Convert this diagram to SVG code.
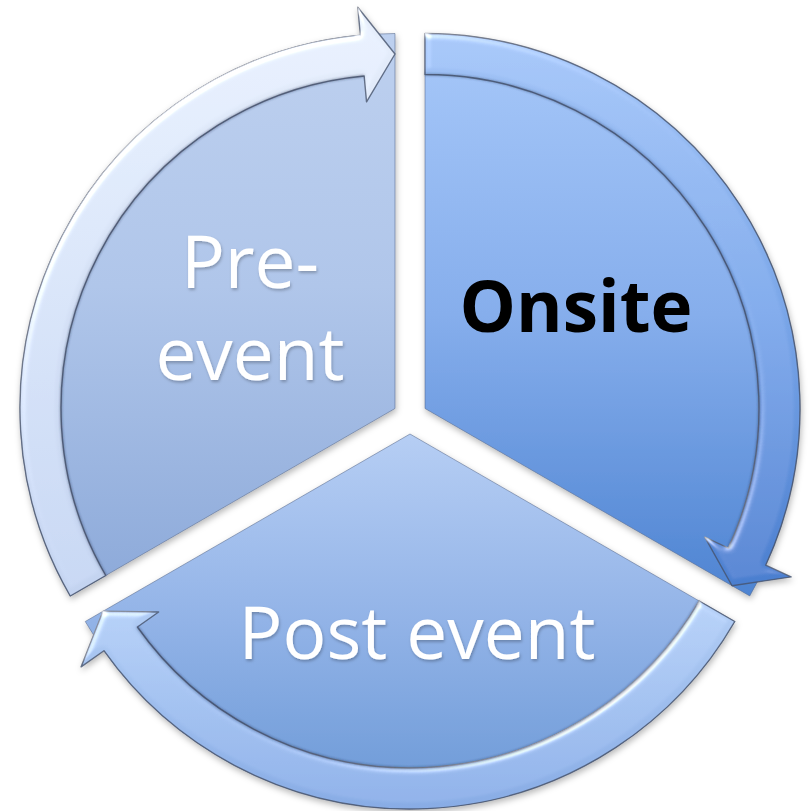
<svg xmlns="http://www.w3.org/2000/svg" width="809" height="811" viewBox="0 0 809 811">
  <defs>
    <style>
      .seg { stroke: #55688a; stroke-opacity: 0.55; stroke-width: 1; }
      .arr { stroke: #46536c; stroke-opacity: 0.8; stroke-width: 1.4; stroke-linejoin: round; }
      .edge { fill: none; stroke: #2c3a58; stroke-opacity: 0.45; stroke-width: 2.2; }
      .lbl { font-family: "Open Sans", "Liberation Sans", sans-serif; font-size: 73px; text-anchor: middle; }
      .white { fill: #ffffff; filter: url(#txtShadow); }
      .black { fill: #000000; font-weight: bold; font-size: 71px; }
    </style>
    <linearGradient id="gLeft" gradientUnits="userSpaceOnUse" x1="0" y1="33" x2="0" y2="596">
      <stop offset="0" stop-color="#BDD0EF"/>
      <stop offset="0.45" stop-color="#B0C6EA"/>
      <stop offset="1" stop-color="#8CA9D9"/>
    </linearGradient>
    <linearGradient id="gRight" gradientUnits="userSpaceOnUse" x1="0" y1="33" x2="0" y2="596">
      <stop offset="0" stop-color="#A7C8F9"/>
      <stop offset="0.5" stop-color="#86AEEC"/>
      <stop offset="1" stop-color="#4E84D2"/>
    </linearGradient>
    <linearGradient id="gBottom" gradientUnits="userSpaceOnUse" x1="0" y1="434" x2="0" y2="809">
      <stop offset="0" stop-color="#B6CEF4"/>
      <stop offset="0.5" stop-color="#92B3E7"/>
      <stop offset="1" stop-color="#6A98D6"/>
    </linearGradient>
    <linearGradient id="gaLeft" gradientUnits="userSpaceOnUse" x1="0" y1="7" x2="0" y2="596">
      <stop offset="0" stop-color="#E6EEFB"/>
      <stop offset="1" stop-color="#C3D3F0"/>
    </linearGradient>
    <linearGradient id="gaRight" gradientUnits="userSpaceOnUse" x1="0" y1="33" x2="0" y2="590">
      <stop offset="0" stop-color="#A3C4F6"/>
      <stop offset="0.5" stop-color="#7AA6E8"/>
      <stop offset="1" stop-color="#4A7ECF"/>
    </linearGradient>
    <linearGradient id="gaBottom" gradientUnits="userSpaceOnUse" x1="0" y1="600" x2="0" y2="809">
      <stop offset="0" stop-color="#B3CEF5"/>
      <stop offset="1" stop-color="#88ACE5"/>
    </linearGradient>
    <filter id="shadow" x="-10%" y="-10%" width="120%" height="120%">
      <feDropShadow dx="1" dy="3" stdDeviation="3" flood-color="#000" flood-opacity="0.28"/>
    </filter>
    <filter id="bevel" x="-5%" y="-5%" width="110%" height="110%">
      <feGaussianBlur in="SourceAlpha" stdDeviation="3" result="b"/>
      <feSpecularLighting in="b" surfaceScale="3" specularConstant="0.7" specularExponent="22" lighting-color="#ffffff" result="s">
        <feDistantLight azimuth="235" elevation="32"/>
      </feSpecularLighting>
      <feComposite in="s" in2="SourceAlpha" operator="in" result="s2"/>
      <feComposite in="SourceGraphic" in2="s2" operator="arithmetic" k1="0" k2="1" k3="1" k4="0"/>
    </filter>
    <filter id="soft" x="-5%" y="-5%" width="110%" height="110%">
      <feGaussianBlur stdDeviation="0.8"/>
    </filter>
    <filter id="txtShadow" x="-10%" y="-10%" width="120%" height="130%">
      <feDropShadow dx="1" dy="2" stdDeviation="1.5" flood-color="#000" flood-opacity="0.25"/>
    </filter>
  </defs>

  <g id="node-pre-event" filter="url(#shadow)">
    <path class="seg" fill="url(#gLeft)" d="M395,408.5 L70.24,596 A375,375 0 0 1 395,33.5 Z"/>
    <path class="arr" fill="url(#gaLeft)" filter="url(#bevel)" d="M70.24,596 A375,375 0 0 1 360.36,35.1 L357.77,7.22 L395,54 L366.55,101.82 L364.15,75.93 A334,334 0 0 0 105.75,575.5 Z"/>
    <path class="edge" filter="url(#soft)" d="M105.75,575.5 A334,334 0 0 1 364.15,75.93"/>
    <text class="lbl white" x="250" y="288">Pre-</text>
    <text class="lbl white" x="250" y="380">event</text>
  </g>

  <g id="node-onsite" filter="url(#shadow)">
    <path class="seg" fill="url(#gRight)" d="M425,408.5 L425,33.5 A375,375 0 0 1 749.76,596 Z"/>
    <path class="arr" fill="url(#gaRight)" filter="url(#bevel)" d="M425,33.5 A375,375 0 0 1 765.69,565.2 L791.13,576.9 L732.01,585.75 L704.82,537.2 L728.44,548.07 A334,334 0 0 0 425,74.5 Z"/>
    <path class="edge" filter="url(#soft)" d="M425,74.5 A334,334 0 0 1 728.44,548.07"/>
    <text class="lbl black" x="576" y="332">Onsite</text>
  </g>

  <g id="node-post-event" filter="url(#shadow)">
    <path class="seg" fill="url(#gBottom)" d="M410,434 L734.76,621.5 A375,375 0 0 1 85.24,621.5 Z"/>
    <path class="arr" fill="url(#gaBottom)" filter="url(#bevel)" d="M734.76,621.5 A375,375 0 0 1 103.95,650.7 L81.1,666.88 L102.99,611.25 L158.63,611.98 L137.41,627 A334,334 0 0 0 699.25,601 Z"/>
    <path class="edge" filter="url(#soft)" d="M699.25,601 A334,334 0 0 1 137.41,627"/>
    <text class="lbl white" x="417" y="659">Post event</text>
  </g>

  <g id="connectors"></g>
</svg>
